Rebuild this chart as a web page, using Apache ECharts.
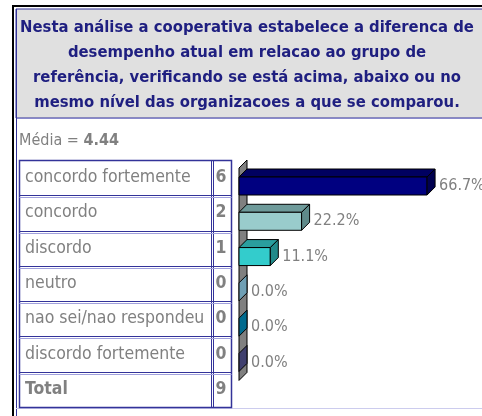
<!DOCTYPE html>
<html>
<head>
<meta charset="utf-8">
<script src="https://cdn.jsdelivr.net/npm/echarts@6/dist/echarts.min.js"></script>
<style>
html, body { margin: 0; padding: 0; background: #fff; }
#chart { width: 482px; height: 416px; }
</style>
</head>
<body>
<div id="chart"></div>
<script>
// dados
const titleLines = [
  'Nesta análise a cooperativa estabelece a diferenca de',
  'desempenho atual em relacao ao grupo de',
  'referência, verificando se está acima, abaixo ou no',
  'mesmo nível das organizacoes a que se comparou.'
];
const mediaValue = '4.44';
const categories = ['concordo fortemente', 'concordo', 'discordo', 'neutro', 'nao sei/nao respondeu', 'discordo fortemente'];
const counts = [6, 2, 1, 0, 0, 0];
const total = 9;
const percents = [66.7, 22.2, 11.1, 0.0, 0.0, 0.0];

const frontColors = ['#000080', '#99cccc', '#33cccc', '#6f9fb4', '#006a8e', '#3f3f6e'];
const topColors = ['#000060', '#6e9a9a', '#2a9e9e', '#6f9fb4', '#006a8e', '#3f3f6e'];
const sideColors = ['#000050', '#5f8a8a', '#228a8a', '#6f9fb4', '#006a8e', '#3f3f6e'];

const FONT = '"DejaVu Sans Condensed", "DejaVu Sans", sans-serif';
const GRAY = '#808080';
const NAVY = '#333399';

const gridTop = 160, gridHeight = 247, gridLeft = 239;
const rowCount = categories.length + 1;
const rowH = gridHeight / rowCount;
const tabL = 19.5, tabC = 211.5, tabR = 231.5;
const DX = 8, DY = 8;

const MyEcharts = echarts.init(document.getElementById('chart'));

// moldura, cabecalho e linhas da tabela
const graphics = [
  { type: 'rect', shape: { x: 16, y: 9, width: 480, height: 109 }, style: { fill: '#e0e0e0', stroke: NAVY, lineWidth: 1 } },
  { type: 'line', shape: { x1: 16, y1: 118.5, x2: 482, y2: 118.5 }, style: { stroke: '#8888cc', lineWidth: 1 } },
  { type: 'line', shape: { x1: 12.5, y1: 6, x2: 482, y2: 6 }, style: { stroke: '#000', lineWidth: 2 } },
  { type: 'line', shape: { x1: 13, y1: 5, x2: 13, y2: 416 }, style: { stroke: '#000', lineWidth: 2 } },
  { type: 'line', shape: { x1: 16.5, y1: 9, x2: 16.5, y2: 416 }, style: { stroke: NAVY, lineWidth: 1 } },
  { type: 'line', shape: { x1: 16, y1: 408.5, x2: 482, y2: 408.5 }, style: { stroke: '#ccccee', lineWidth: 1 } },
  {
    type: 'text', x: 19, y: 141,
    style: {
      text: '{a|Média = }{b|' + mediaValue + '}', verticalAlign: 'middle',
      rich: {
        a: { fontFamily: FONT, fontSize: 16, fill: GRAY },
        b: { fontFamily: FONT, fontSize: 16, fontWeight: 'bold', fill: GRAY }
      }
    }
  },
  { type: 'rect', shape: { x: tabL, y: gridTop + 0.5, width: tabR - tabL, height: gridHeight }, style: { fill: 'none', stroke: NAVY, lineWidth: 1.5 } },
  { type: 'line', shape: { x1: tabC, y1: gridTop, x2: tabC, y2: gridTop + gridHeight }, style: { stroke: NAVY, lineWidth: 1 } },
  { type: 'line', shape: { x1: tabC + 2, y1: gridTop, x2: tabC + 2, y2: gridTop + gridHeight }, style: { stroke: NAVY, lineWidth: 1 } }
];
titleLines.forEach(function (t, k) {
  graphics.push({
    type: 'text', x: 247, y: 28 + k * 25,
    style: { text: t, align: 'center', verticalAlign: 'middle', font: 'bold 16.5px ' + FONT, fill: '#1f1f80' }
  });
});
for (let i = 1; i < rowCount; i++) {
  const y = Math.round(gridTop + i * rowH) + 0.5;
  graphics.push({ type: 'line', shape: { x1: tabL, y1: y, x2: tabR, y2: y }, style: { stroke: NAVY, lineWidth: 1 } });
  graphics.push({ type: 'line', shape: { x1: tabL, y1: y + 2, x2: tabR, y2: y + 2 }, style: { stroke: '#a0a0dd', lineWidth: 1 } });
}

function renderWall(params, api) {
  const band = api.size([0, 1])[1];
  const p0 = api.coord([0, 0]);
  const p5 = api.coord([0, categories.length - 1]);
  const top0 = p0[1] - band / 2;
  const top5 = p5[1] - band / 2;
  const x0 = p0[0];
  return {
    type: 'polygon', z2: 0,
    shape: { points: [[x0, top0 + DY], [x0 + DX, top0], [x0 + DX, top5 + 36], [x0, top5 + 36 + DY]] },
    style: { fill: '#808080', stroke: '#000', lineWidth: 1 }
  };
}

function renderBar(params, api) {
  const i = api.value(1);
  const v = api.value(0);
  const band = api.size([0, 1])[1];
  const p0 = api.coord([0, i]);
  const p1 = api.coord([v, i]);
  const top = p0[1] - band / 2;
  const x0 = p0[0], x1 = p1[0];
  const fy0 = top + 17, fy1 = top + 35;
  const children = [];
  if (x1 - x0 >= 1) {
    children.push({
      type: 'polygon',
      shape: { points: [[x0, fy0], [x0 + DX, fy0 - DY], [x1 + DX, fy0 - DY], [x1, fy0]] },
      style: { fill: topColors[i], stroke: '#000', lineWidth: 1 }
    });
    children.push({
      type: 'rect',
      shape: { x: x0, y: fy0, width: x1 - x0, height: fy1 - fy0 },
      style: { fill: frontColors[i], stroke: '#000', lineWidth: 1 }
    });
  }
  children.push({
    type: 'polygon',
    shape: { points: [[x1, fy0], [x1 + DX, fy0 - DY], [x1 + DX, fy1 - DY], [x1, fy1]] },
    style: { fill: sideColors[i], stroke: '#000', lineWidth: 1 }
  });
  children.push({
    type: 'text', x: x1 + DX + 4, y: top + 26,
    style: {
      text: percents[i].toFixed(1) + '%', verticalAlign: 'middle',
      font: '16px ' + FONT, fill: GRAY
    }
  });
  return { type: 'group', children: children };
}

const option = {
  animation: false,
  graphic: graphics,
  // 2.82 px por ponto percentual
  grid: { left: gridLeft, top: gridTop, width: 242.5, height: gridHeight },
  xAxis: { type: 'value', min: 0, max: 86, show: false },
  yAxis: {
    type: 'category',
    inverse: true,
    data: categories.concat(['Total']),
    axisLine: { show: false },
    axisTick: { show: false },
    axisLabel: {
      margin: gridLeft - 25,
      align: 'left',
      formatter: function (value, idx) {
        if (idx === categories.length) return '{nb|' + value + '}{cb|' + total + '}';
        return '{n|' + value + '}{c|' + counts[idx] + '}';
      },
      rich: {
        n: { width: 186, fontFamily: FONT, fontSize: 17.5, color: GRAY },
        c: { width: 20, align: 'center', fontFamily: FONT, fontSize: 17.5, color: GRAY, fontWeight: 'bold' },
        nb: { width: 186, fontFamily: FONT, fontSize: 17.5, color: GRAY, fontWeight: 'bold' },
        cb: { width: 20, align: 'center', fontFamily: FONT, fontSize: 17.5, color: GRAY, fontWeight: 'bold' }
      }
    }
  },
  series: [
    { type: 'custom', z: 1, renderItem: renderWall, data: [[0, 0]], silent: true },
    {
      type: 'custom', z: 2, renderItem: renderBar,
      encode: { x: 0, y: 1 },
      data: percents.map(function (p, i) { return [p, i]; })
    }
  ]
};
MyEcharts.setOption(option);
</script>
</body>
</html>
